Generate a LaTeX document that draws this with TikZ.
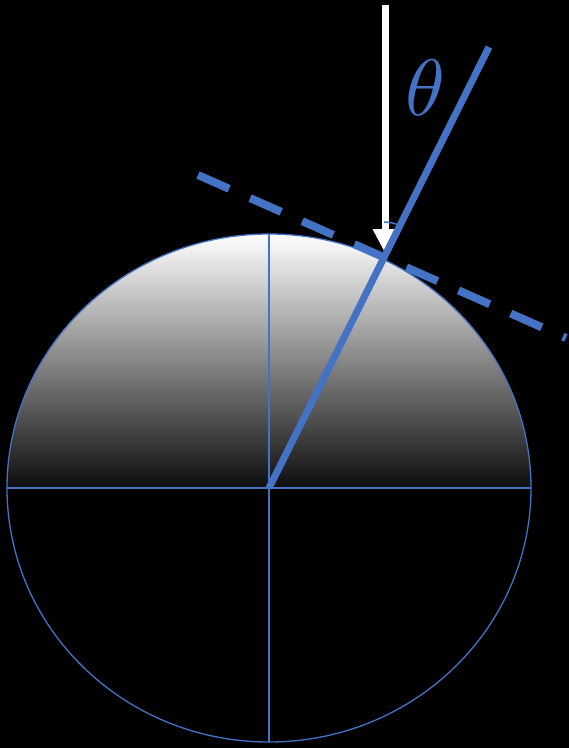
\documentclass[tikz,border=0pt]{standalone}
\usepackage{amsmath,amssymb}
\usetikzlibrary{arrows.meta}
\definecolor{ray}{RGB}{68,114,196}

\begin{document}
\begin{tikzpicture}[x=1pt,y=-1pt,>=Stealth,
    rim/.style={ray,line width=1.3pt},
    axis/.style={ray,line width=2pt},
    normal/.style={ray,line width=7pt},
    tangent/.style={ray,line width=8pt,dash pattern=on 34pt off 23pt},
    incident/.style={white,line width=7.5pt,-{Triangle[width=24pt,length=25pt]}}]
  \useasboundingbox (0,0) rectangle (569,748);
  \fill[black] (0,0) rectangle (569,748);
  \coordinate (O)  at (269,488);   % centre of the disc
  \coordinate (P)  at (384,258);   % where the ray meets the rim
  \coordinate (N)  at (489,47);    % far end of the normal
  \coordinate (T1) at (198,175);
  \coordinate (T2) at (566,338);
  % lit upper half
  \shade[top color=white,bottom color=black!95]
     (7,488) arc[start angle=180,end angle=360,x radius=262,y radius=254] -- cycle;
  \draw[rim] (O) ellipse[x radius=262,y radius=254];
  \draw[axis] (7,488) -- (531,488);
  \draw[axis] (269,234) -- (269,742);
  % tangent plane at P
  \draw[tangent] (T1) -- (T2);
  % incoming light
  \draw[incident] (385.5,5) -- (385.5,254);
  % normal through P
  \draw[normal] (O) -- (N);
  \draw[ray,line width=1.5pt] (384,222) arc[start angle=270,end angle=296.5,radius=36];
  \node[ray,scale=8,inner sep=0pt] (th) at (425,88) {$\theta$};
\end{tikzpicture}
\end{document}
